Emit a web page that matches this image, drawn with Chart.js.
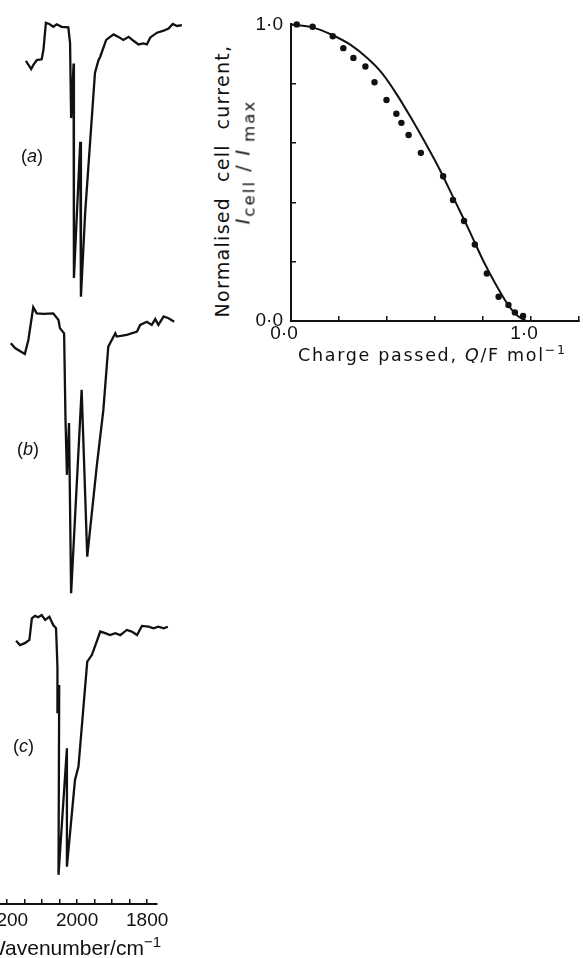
<!DOCTYPE html>
<html>
<head>
<meta charset="utf-8">
<script src="https://cdn.jsdelivr.net/npm/chart.js@4.4.1/dist/chart.umd.min.js"></script>
<style>
  body { margin: 0; width: 583px; height: 958px; overflow: hidden; background: #fff; position: relative;
         font-family: "Liberation Sans", Arial, sans-serif; color: #111; }
  canvas { position: absolute; }
  .lbl { position: absolute; white-space: nowrap; line-height: 1; }
  .rot { position: absolute; white-space: nowrap; line-height: 1; transform: translate(-50%, -50%) rotate(-90deg);
         font-family: "DejaVu Sans", sans-serif; }
  sub, sup { font-size: 72%; line-height: 0; }
  .rot sub { font-size: 88%; }
</style>
</head>
<body>
<canvas id="espectros" width="247" height="958" style="left:-60px;top:0"></canvas>
<canvas id="corriente" width="334" height="380" style="left:251px;top:0"></canvas>

<div class="lbl" style="left:21px;top:147px;font-size:18px">(<i>a</i>)</div>
<div class="lbl" style="left:17px;top:440px;font-size:18px">(<i>b</i>)</div>
<div class="lbl" style="left:13px;top:737px;font-size:18px">(<i>c</i>)</div>
<div class="lbl" style="left:-14px;top:937px;font-size:21px">Wavenumber/cm<sup>&minus;1</sup></div>

<div class="rot" style="left:222px;top:181px;font-size:19px;letter-spacing:1.3px">Normalised&nbsp;&nbsp;cell&nbsp;&nbsp;current,</div>
<div class="rot" style="left:243px;top:162px;font-size:19px;letter-spacing:2px"><i>I</i><sub>cell</sub>&nbsp;/&nbsp;<i>I</i>&thinsp;<sub>max</sub></div>
<div class="lbl" style="left:298px;top:347px;font-size:17.5px;letter-spacing:1.7px;font-family:'DejaVu Sans',sans-serif">Charge passed, <i>Q</i>/F mol<sup>&minus;1</sup></div>

<script>
// Espectros IR (numero de onda en cm-1, transmitancia en unidades arbitrarias)
const specA_wn = [2146, 2131, 2125, 2115, 2101, 2096, 2089, 2079, 2068, 2058, 2044, 2025, 2020, 2017, 2010, 2009, 1991, 1989, 1977, 1949, 1939, 1934, 1917, 1896, 1882, 1868, 1853, 1839, 1825, 1811, 1801, 1791, 1772, 1753, 1739, 1727, 1715, 1701];
const specA_T  = [85.4, 82.5, 83.9, 85.7, 86.0, 89.3, 99.0, 98.6, 97.6, 98.5, 97.6, 97.4, 91.8, 65.0, 84.5, 7.9, 56.5, 1.2, 31.1, 81.1, 85.7, 86.9, 92.9, 94.9, 94.0, 92.9, 94.0, 92.6, 91.3, 91.7, 91.3, 93.8, 95.5, 96.2, 97.0, 98.6, 97.9, 98.2];

const specB_wn = [2189, 2177, 2149, 2139, 2125, 2115, 2096, 2068, 2053, 2049, 2037, 2033, 2029, 2023, 2017, 1987, 1971, 1944, 1925, 1911, 1891, 1887, 1858, 1829, 1820, 1801, 1787, 1777, 1768, 1753, 1739, 1723];
const specB_T  = [86.8, 85.1, 83.1, 87.9, 99.2, 97.1, 96.9, 97.1, 94.8, 92.0, 90.2, 60.3, 41.4, 59.3, 0.6, 70.7, 13.2, 44.2, 63.8, 85.6, 90.2, 89.1, 89.7, 90.8, 93.1, 94.2, 93.1, 95.1, 93.1, 96.0, 95.4, 94.2];

const specC_wn = [2174, 2163, 2149, 2136, 2129, 2120, 2111, 2101, 2091, 2079, 2068, 2060, 2056, 2056, 2051, 2053, 2029, 2029, 2006, 1996, 1971, 1958, 1944, 1934, 1920, 1906, 1891, 1877, 1858, 1844, 1829, 1815, 1796, 1782, 1768, 1753, 1741];
const specC_T  = [88.6, 87.0, 87.7, 88.9, 96.9, 97.8, 97.3, 98.1, 96.3, 97.5, 94.4, 93.2, 79.0, 61.7, 72.2, 1.9, 48.8, 4.9, 37.0, 42.0, 80.9, 83.3, 88.3, 92.0, 91.4, 90.7, 91.4, 90.7, 92.6, 92.0, 90.7, 94.1, 93.8, 93.2, 93.8, 93.2, 93.8];

const wnTicks = [2200, 2000, 1800];

// Corriente normalizada vs carga
const cargaQ   = [0.024, 0.09, 0.174, 0.218, 0.26, 0.31, 0.348, 0.398, 0.439, 0.46, 0.49, 0.541, 0.634, 0.675, 0.721, 0.766, 0.816, 0.865, 0.906, 0.933, 0.967];
const corrI    = [1.0, 0.992, 0.96, 0.92, 0.887, 0.858, 0.805, 0.745, 0.699, 0.668, 0.627, 0.567, 0.488, 0.408, 0.337, 0.258, 0.16, 0.082, 0.054, 0.029, 0.017];
const ajusteQ  = [0.0, 0.09, 0.17, 0.25, 0.32, 0.38, 0.44, 0.50, 0.56, 0.62, 0.68, 0.74, 0.80, 0.85, 0.90, 0.94, 0.98];
const ajusteI  = [1.0, 0.99, 0.965, 0.93, 0.885, 0.835, 0.765, 0.685, 0.60, 0.51, 0.41, 0.31, 0.205, 0.128, 0.06, 0.02, 0.0];
const ejeTicks = [0, 1];

const pares = (xs, ys) => xs.map((x, i) => ({ x: x, y: ys[i] }));
const negro = "#111";
const fuenteTicks = { family: "Liberation Sans", size: 19 };

function traza(xs, ys, eje) {
    return {
        data: pares(xs, ys),
        yAxisID: eje,
        borderColor: negro,
        borderWidth: 2.3,
        pointRadius: 0,
        tension: 0,
        clip: false
    };
}

new Chart(document.getElementById("espectros"), {
    type: "line",
    data: {
        datasets: [
            traza(specA_wn, specA_T, "ya"),
            traza(specB_wn, specB_T, "yb"),
            traza(specC_wn, specC_T, "yc")
        ]
    },
    options: {
        responsive: false,
        animation: false,
        devicePixelRatio: 1,
        layout: { padding: { left: 20, right: 30, top: 10, bottom: 24 } },
        plugins: { legend: { display: false }, tooltip: { enabled: false } },
        scales: {
            x: {
                type: "linear",
                reverse: true,
                min: 1772,
                max: 2334,
                afterFit: (s) => { s.height = 30; },
                border: { display: true, color: negro, width: 2 },
                grid: { drawOnChartArea: false, drawTicks: true, tickLength: -5, color: negro, lineWidth: 1.5 },
                ticks: {
                    stepSize: 50,
                    includeBounds: false,
                    autoSkip: false,
                    maxRotation: 0,
                    padding: 10,
                    color: negro,
                    font: fuenteTicks,
                    callback: (v) => wnTicks.includes(v) ? String(v) : ""
                }
            },
            // cada espectro en su propia franja vertical
            ya: { display: false, min: -215.7, max: 103.6 },
            yb: { display: false, min: -106.6, max: 201.7 },
            yc: { display: false, min: -8.9, max: 322.2 }
        }
    }
});

const fmtPunto = (v) => {
    const t = ejeTicks.find((k) => Math.abs(k - v) < 1e-6);
    return t === undefined ? "" : t.toFixed(1).replace(".", "\u00b7");
};

new Chart(document.getElementById("corriente"), {
    type: "line",
    data: {
        datasets: [
            {
                data: pares(ajusteQ, ajusteI),
                borderColor: negro,
                borderWidth: 2,
                pointRadius: 0,
                cubicInterpolationMode: "monotone",
                clip: false
            },
            {
                data: pares(cargaQ, corrI),
                showLine: false,
                pointRadius: 3.2,
                pointBackgroundColor: negro,
                pointBorderWidth: 0,
                clip: false
            }
        ]
    },
    options: {
        responsive: false,
        animation: false,
        devicePixelRatio: 1,
        layout: { padding: { left: 0, right: 0, top: 23, bottom: 29 } },
        plugins: { legend: { display: false }, tooltip: { enabled: false } },
        scales: {
            x: {
                type: "linear",
                min: 0,
                max: 1.2,
                afterFit: (s) => { s.height = 30; },
                border: { display: true, color: negro, width: 2 },
                grid: { drawOnChartArea: false, drawTicks: true, tickLength: -5, color: negro, lineWidth: 1.5 },
                ticks: {
                    stepSize: 0.2,
                    autoSkip: false,
                    maxRotation: 0,
                    padding: 6,
                    labelOffset: -7,
                    color: negro,
                    font: fuenteTicks,
                    callback: fmtPunto
                }
            },
            y: {
                type: "linear",
                min: 0,
                max: 1,
                afterFit: (s) => { s.width = 40; },
                border: { display: true, color: negro, width: 2 },
                grid: { drawOnChartArea: false, drawTicks: true, tickLength: -5, color: negro, lineWidth: 1.5 },
                ticks: {
                    stepSize: 0.2,
                    autoSkip: false,
                    padding: 13,
                    color: negro,
                    font: fuenteTicks,
                    callback: fmtPunto
                }
            }
        }
    }
});
</script>
</body>
</html>
